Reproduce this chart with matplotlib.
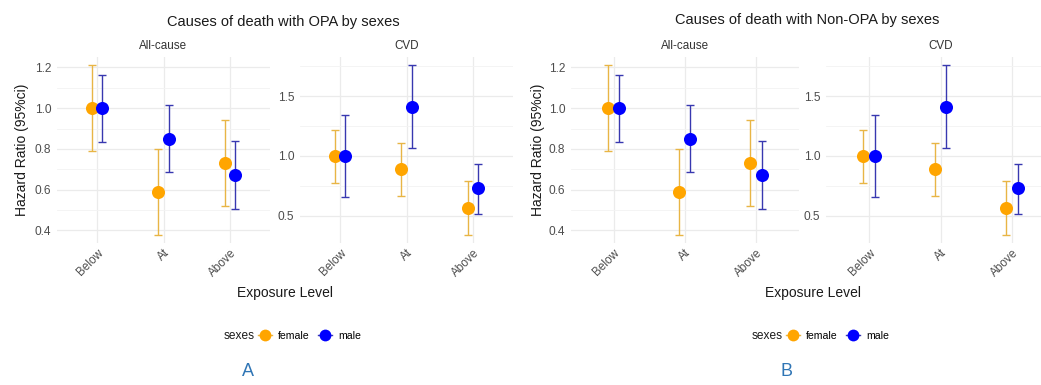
import matplotlib
matplotlib.use("Agg")
import matplotlib.pyplot as plt
from matplotlib.lines import Line2D
from matplotlib.ticker import MultipleLocator
import numpy as np

plt.rcParams['font.family'] = ['Liberation Sans', 'DejaVu Sans']

categories = ["Below", "At", "Above"]
sexes = ["female", "male"]

# All-cause hazard ratios (95% CI)
allcause_female_hr = [1.00, 0.59, 0.73]
allcause_female_lo = [0.79, 0.38, 0.52]
allcause_female_hi = [1.21, 0.80, 0.94]
allcause_male_hr = [1.00, 0.85, 0.67]
allcause_male_lo = [0.835, 0.685, 0.505]
allcause_male_hi = [1.165, 1.015, 0.84]

# CVD hazard ratios (95% CI)
cvd_female_hr = [1.00, 0.89, 0.57]
cvd_female_lo = [0.775, 0.665, 0.345]
cvd_female_hi = [1.22, 1.11, 0.79]
cvd_male_hr = [1.00, 1.41, 0.73]
cvd_male_lo = [0.655, 1.065, 0.52]
cvd_male_hi = [1.34, 1.755, 0.935]

panel_titles = ["Causes of death with OPA by sexes", "Causes of death with Non-OPA by sexes"]
facet_titles = ["All-cause", "CVD"]
panel_letters = ["A", "B"]

point_colors = {"female": "#FFA500", "male": "#0000FF"}
err_colors = {"female": "#E8B545", "male": "#3838B0"}

W, H = 1041, 385
fig = plt.figure(figsize=(W / 100, H / 100), dpi=100)


def rect(l, t, r, b):
    return [l / W, 1 - b / H, (r - l) / W, (b - t) / H]


facet_data = {
    "All-cause": {
        "female": (allcause_female_hr, allcause_female_lo, allcause_female_hi),
        "male": (allcause_male_hr, allcause_male_lo, allcause_male_hi),
    },
    "CVD": {
        "female": (cvd_female_hr, cvd_female_lo, cvd_female_hi),
        "male": (cvd_male_hr, cvd_male_lo, cvd_male_hi),
    },
}

layouts = [
    {"axes": [(57, 57, 270, 243), (300, 57, 513, 243)], "title": (283, 22), "xlabel": (285, 293),
     "ylabel": (22, 150), "legend_x": 224, "letter": (248, 372)},
    {"axes": [(571, 57, 798.6, 243), (826, 57, 1055, 243)], "title": (807, 20), "xlabel": (813, 293),
     "ylabel": (538, 150), "legend_x": 752, "letter": (787, 372)},
]

dodge = 0.08
x = np.arange(1, len(categories) + 1)

for pi, lay in enumerate(layouts):
    for fi, facet in enumerate(facet_titles):
        ax = fig.add_axes(rect(*lay["axes"][fi]))
        d = facet_data[facet]
        allv = []
        for si, sex in enumerate(sexes):
            hr, lo, hi = (np.array(v) for v in d[sex])
            allv += list(lo) + list(hi)
            xs = x + (-dodge if sex == "female" else dodge)
            ax.errorbar(xs, hr, yerr=[hr - lo, hi - hr], fmt="none",
                        ecolor=err_colors[sex], elinewidth=1.0, capsize=2.8, capthick=1.0, zorder=2)
            ax.plot(xs, hr, "o", color=point_colors[sex], markersize=9.4, zorder=3, markeredgewidth=0)
        lo_, hi_ = min(allv), max(allv)
        pad = (hi_ - lo_) * 0.05
        ax.set_ylim(lo_ - pad, hi_ + pad)
        ax.set_xlim(0.4, len(categories) + 0.6)
        if facet == "All-cause":
            ax.yaxis.set_major_locator(MultipleLocator(0.2))
            ax.yaxis.set_minor_locator(MultipleLocator(0.1))
        else:
            ax.yaxis.set_major_locator(MultipleLocator(0.5))
            ax.yaxis.set_minor_locator(MultipleLocator(0.25))
        ax.set_xticks(x)
        ax.set_xticklabels(categories, rotation=45, ha="right", rotation_mode="anchor",
                           fontsize=8.5, color="#4D4D4D")
        ax.yaxis.set_major_formatter(matplotlib.ticker.FormatStrFormatter("%.1f"))
        ax.tick_params(axis="y", labelsize=8.6, labelcolor="#4D4D4D", length=0, pad=4)
        ax.tick_params(axis="x", length=0, pad=3)
        ax.tick_params(which="minor", length=0)
        ax.grid(True, which="major", color="#EBEBEB", linewidth=0.9, zorder=0)
        ax.grid(True, which="minor", axis="y", color="#F3F3F3", linewidth=0.6, zorder=0)
        ax.set_axisbelow(True)
        for s in ax.spines.values():
            s.set_visible(False)
        ax.set_title(facet, fontsize=8.4, color="#333333", pad=6)
    tx, ty = lay["title"]
    fig.text(tx / W, 1 - ty / H, panel_titles[pi], ha="center", va="center", fontsize=10.5, color="#1A1A1A")
    ex, ey = lay["xlabel"]
    fig.text(ex / W, 1 - ey / H, "Exposure Level", ha="center", va="center", fontsize=10, color="#1A1A1A")
    yx, yy = lay["ylabel"]
    fig.text(yx / W, 1 - yy / H, "Hazard Ratio (95%ci)", ha="center", va="center", rotation=90,
             fontsize=10, color="#1A1A1A")
    lx = lay["legend_x"]
    fig.text(lx / W, 1 - 336 / H, "sexes", ha="left", va="center", fontsize=8.6, color="#1A1A1A")
    handles = [Line2D([0], [0], color=err_colors[s], marker="o", markerfacecolor=point_colors[s],
                      markeredgewidth=0, markersize=8.5, linewidth=1.0) for s in sexes]
    fig.legend(handles, sexes, loc="center left", bbox_to_anchor=((lx + 34) / W, 1 - 336 / H),
               ncol=2, frameon=False, fontsize=7.6, handlelength=1.3, handletextpad=0.6,
               columnspacing=0.8, borderaxespad=0, borderpad=0)
    lx2, ly2 = lay["letter"]
    fig.text(lx2 / W, 1 - ly2 / H, panel_letters[pi], ha="center", va="center", fontsize=13,
             color="#2F75B5")

fig.savefig("out.png", dpi=100)
